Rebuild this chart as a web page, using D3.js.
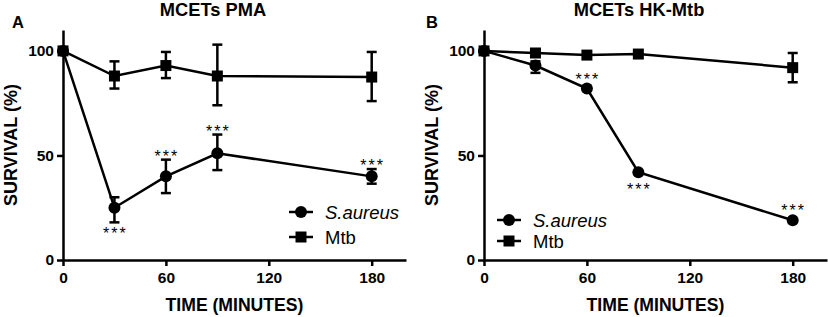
<!DOCTYPE html>
<html><head><meta charset="utf-8">
<script src="https://cdn.jsdelivr.net/npm/d3@7"></script>
<style>body{margin:0;background:#fff}svg{display:block}</style>
</head><body>
<svg id="c" width="828" height="317"></svg>
<script>
const times = [0, 30, 60, 90, 180];
const xTicks = [0, 60, 120, 180];
const yTicks = [0, 50, 100];
// Panel A: MCETs PMA
const aSaureus = [100, 25, 40, 51, 40];
const aSaureusErr = [[100,100],[18,30],[32,48],[43,60],[36.5,43.5]];
const aMtb = [100, 88, 93, 88, 87.5];
const aMtbErr = [[100,100],[82,95],[87,99.5],[74,103],[76,99.5]];
const aStars = [null, "below", "above", "above", "above"];
// Panel B: MCETs HK-Mtb
const bSaureus = [100, 93, 82, 42, 19];
const bSaureusErr = [[100,100],[89.5,95],[82,82],[42,42],[19,19]];
const bMtb = [100, 99, 98, 98.5, 92];
const bMtbErr = [[100,100],[99,99],[98,98],[98.5,98.5],[85,99]];
const bStars = [null, null, "above", "below", "above"];

const svg = d3.select("#c");
const font = "Liberation Sans, Arial, sans-serif";
const SW = 2.5, R = 6, SQ = 11, CAP = 5;

function panel(opt) {
  const g = svg.append("g");
  const x = d3.scaleLinear().domain([0, 200]).range([opt.x0, opt.x0 + 343]);
  const y = d3.scaleLinear().domain([0, 110]).range([260, 30]);
  const xa = g.append("g").attr("transform", `translate(0,${y(0)})`)
    .call(d3.axisBottom(x).tickValues(xTicks).tickSize(6).tickSizeOuter(0));
  const ya = g.append("g").attr("transform", `translate(${x(0)},0)`)
    .call(d3.axisLeft(y).tickValues(yTicks).tickSize(6).tickSizeOuter(0));
  [xa, ya].forEach(a => {
    a.select(".domain").attr("stroke", "#000").attr("stroke-width", SW);
    a.selectAll(".tick line").attr("stroke", "#000").attr("stroke-width", SW);
    a.selectAll(".tick text").attr("font-family", font).attr("font-weight", "bold")
      .attr("font-size", 15.5).attr("fill", "#000");
  });
  xa.selectAll(".tick text").attr("y", 12);

  const line = d3.line().x((d, i) => x(times[i])).y(d => y(d));
  function series(vals, errs, shape) {
    g.append("path").datum(vals).attr("d", line).attr("fill", "none")
      .attr("stroke", "#000").attr("stroke-width", SW);
    errs.forEach((e, i) => {
      if (e[1] - e[0] <= 0) return;
      const cx = x(times[i]);
      g.append("line").attr("x1", cx).attr("x2", cx).attr("y1", y(e[0])).attr("y2", y(e[1]))
        .attr("stroke", "#000").attr("stroke-width", SW);
      [e[0], e[1]].forEach(v => g.append("line").attr("x1", cx - CAP).attr("x2", cx + CAP)
        .attr("y1", y(v)).attr("y2", y(v)).attr("stroke", "#000").attr("stroke-width", SW));
    });
    vals.forEach((v, i) => {
      const cx = x(times[i]), cy = y(v);
      if (shape === "circle") g.append("circle").attr("cx", cx).attr("cy", cy).attr("r", R);
      else g.append("rect").attr("x", cx - SQ / 2).attr("y", cy - SQ / 2).attr("width", SQ).attr("height", SQ);
    });
  }
  series(opt.mtb, opt.mtbErr, "square");
  series(opt.sa, opt.saErr, "circle");
  opt.stars.forEach((s, i) => {
    if (!s) return;
    const cx = x(times[i]);
    const top = Math.min(y(opt.saErr[i][1]), y(opt.sa[i]) - R);
    const bot = Math.max(y(opt.saErr[i][0]), y(opt.sa[i]) + R);
    const yy = s === "above" ? top + 2 : bot + 17;
    g.append("text").attr("x", cx + 1).attr("y", yy).attr("text-anchor", "middle")
      .attr("font-family", font).attr("font-size", 16).attr("letter-spacing", 2).text("***");
  });
  g.append("text").attr("x", opt.titleX).attr("y", 16).attr("text-anchor", "middle")
    .attr("font-family", font).attr("font-weight", "bold").attr("font-size", 18.3).text(opt.title);
  g.append("text").attr("x", opt.letterX).attr("y", 28)
    .attr("font-family", font).attr("font-weight", "bold").attr("font-size", 16.5).text(opt.letter);
  g.append("text").attr("transform", `translate(${opt.x0 - 46},145) rotate(-90)`)
    .attr("text-anchor", "middle").attr("font-family", font).attr("font-weight", "bold")
    .attr("font-size", 18).text("SURVIVAL (%)");
  g.append("text").attr("x", x(100)).attr("y", 311).attr("text-anchor", "middle")
    .attr("font-family", font).attr("font-weight", "bold").attr("font-size", 17.6).text("TIME (MINUTES)");
  const L = opt.legend;
  [["S.aureus", "circle", true], ["Mtb", "square", false]].forEach((d, k) => {
    const ly = L.y + k * L.dy;
    g.append("line").attr("x1", L.x).attr("x2", L.x + 24).attr("y1", ly).attr("y2", ly)
      .attr("stroke", "#000").attr("stroke-width", SW);
    if (d[1] === "circle") g.append("circle").attr("cx", L.x + 12).attr("cy", ly).attr("r", R);
    else g.append("rect").attr("x", L.x + 12 - SQ / 2).attr("y", ly - SQ / 2).attr("width", SQ).attr("height", SQ);
    g.append("text").attr("x", L.x + 36).attr("y", ly + 6.5).attr("font-family", font)
      .attr("font-size", 18.5).attr("font-style", d[2] ? "italic" : "normal").text(d[0]);
  });
}

panel({x0: 63, sa: aSaureus, saErr: aSaureusErr, mtb: aMtb, mtbErr: aMtbErr, stars: aStars,
  title: "MCETs PMA", titleX: 213, letter: "A", letterX: 12, legend: {x: 289, y: 212, dy: 25}});
panel({x0: 484, sa: bSaureus, saErr: bSaureusErr, mtb: bMtb, mtbErr: bMtbErr, stars: bStars,
  title: "MCETs HK-Mtb", titleX: 639, letter: "B", letterX: 426, legend: {x: 497, y: 220, dy: 21}});
</script>
</body></html>
